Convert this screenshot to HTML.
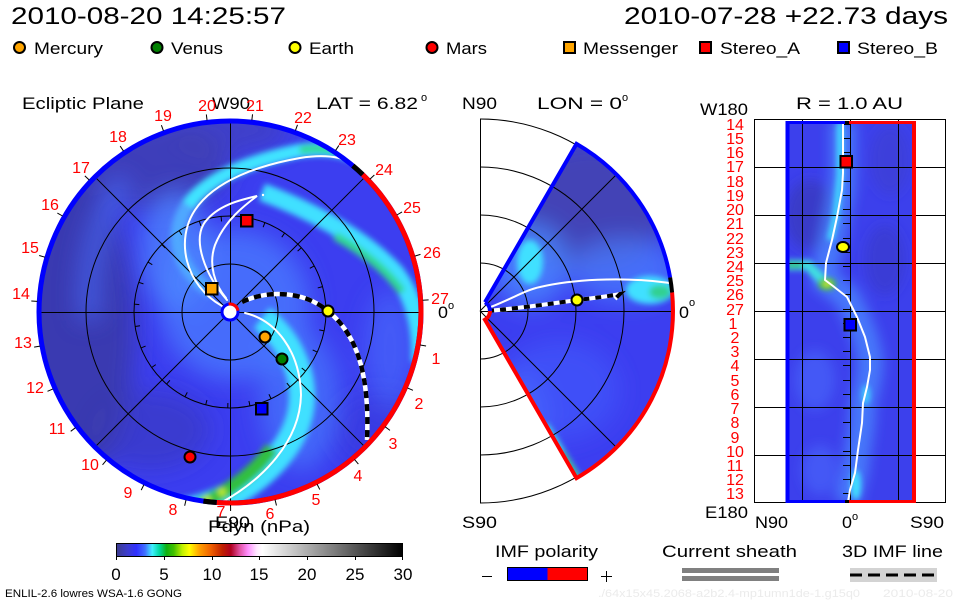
<!DOCTYPE html>
<html><head><meta charset="utf-8"><style>
html,body{margin:0;padding:0;background:#fff;}
svg{display:block;font-family:"Liberation Sans",Arial,sans-serif;}
</style></head><body>
<svg width="960" height="600" viewBox="0 0 960 600" xmlns="http://www.w3.org/2000/svg">
<defs>
<filter id="b3" filterUnits="userSpaceOnUse" x="0" y="0" width="960" height="600"><feGaussianBlur stdDeviation="3"/></filter>
<filter id="b6" filterUnits="userSpaceOnUse" x="0" y="0" width="960" height="600"><feGaussianBlur stdDeviation="6"/></filter>
<filter id="b12" filterUnits="userSpaceOnUse" x="0" y="0" width="960" height="600"><feGaussianBlur stdDeviation="12"/></filter>
<clipPath id="cd"><circle cx="230" cy="312" r="192"/></clipPath>
<clipPath id="cw"><path d="M485,302.3 L576.5,143.9 A193,193 0 0 1 576.5,478.1 L485,319.7 A10,10 0 0 0 485,302.3Z"/></clipPath>
<clipPath id="cr"><rect x="786" y="122" width="128" height="380"/></clipPath>
<linearGradient id="cb" x1="0" y1="0" x2="1" y2="0">
<stop offset="0" stop-color="#3c3c8c"/><stop offset="0.04" stop-color="#3c3cd0"/><stop offset="0.07" stop-color="#3030ff"/>
<stop offset="0.10" stop-color="#4070ff"/><stop offset="0.125" stop-color="#40f0ff"/><stop offset="0.15" stop-color="#00d8a0"/>
<stop offset="0.175" stop-color="#10b010"/><stop offset="0.20" stop-color="#40c000"/><stop offset="0.23" stop-color="#c0f000"/>
<stop offset="0.255" stop-color="#ffff00"/><stop offset="0.29" stop-color="#ffa000"/><stop offset="0.33" stop-color="#f06000"/>
<stop offset="0.37" stop-color="#c02000"/><stop offset="0.40" stop-color="#b00020"/><stop offset="0.43" stop-color="#e050a0"/>
<stop offset="0.46" stop-color="#ff90ff"/><stop offset="0.49" stop-color="#ffe8ff"/><stop offset="0.51" stop-color="#ffffff"/>
<stop offset="1" stop-color="#000000"/>
</linearGradient>
</defs>

<!-- Header -->
<text x="11" y="24" font-size="24" textLength="275" lengthAdjust="spacingAndGlyphs">2010-08-20 14:25:57</text>
<text x="624" y="24" font-size="24" textLength="324" lengthAdjust="spacingAndGlyphs">2010-07-28 +22.73 days</text>

<!-- Legend -->
<g stroke="#000" stroke-width="2">
<circle cx="19.5" cy="47.5" r="5.5" fill="#ffa500"/>
<circle cx="157" cy="47.5" r="5.5" fill="#008000"/>
<circle cx="295" cy="47.5" r="5.5" fill="#ffff00"/>
<circle cx="432" cy="47.5" r="5.5" fill="#ff0000"/>
<rect x="564" y="42" width="11" height="11" fill="#ffa500"/>
<rect x="700" y="42" width="11" height="11" fill="#ff0000"/>
<rect x="838" y="42" width="11" height="11" fill="#0000ff"/>
</g>
<g font-size="17">
<text x="34" y="54" textLength="69" lengthAdjust="spacingAndGlyphs">Mercury</text>
<text x="171" y="54" textLength="52" lengthAdjust="spacingAndGlyphs">Venus</text>
<text x="309" y="54" textLength="45" lengthAdjust="spacingAndGlyphs">Earth</text>
<text x="446" y="54" textLength="41" lengthAdjust="spacingAndGlyphs">Mars</text>
<text x="583" y="54" textLength="95" lengthAdjust="spacingAndGlyphs">Messenger</text>
<text x="720" y="54" textLength="80" lengthAdjust="spacingAndGlyphs">Stereo_A</text>
<text x="857" y="54" textLength="81" lengthAdjust="spacingAndGlyphs">Stereo_B</text>
</g>

<!-- Panel headers -->
<g font-size="17">
<text x="22" y="109" textLength="122" lengthAdjust="spacingAndGlyphs">Ecliptic Plane</text>
<text x="212" y="109" textLength="38" lengthAdjust="spacingAndGlyphs">W90</text>
<text x="316" y="109" textLength="102" lengthAdjust="spacingAndGlyphs">LAT = 6.82</text>
<text x="462" y="109" textLength="35" lengthAdjust="spacingAndGlyphs">N90</text>
<text x="537" y="109" textLength="85" lengthAdjust="spacingAndGlyphs">LON = 0</text>
<text x="796" y="109" textLength="107" lengthAdjust="spacingAndGlyphs">R = 1.0 AU</text>
<text x="700" y="115" textLength="48" lengthAdjust="spacingAndGlyphs">W180</text>
<text x="462" y="528" textLength="35" lengthAdjust="spacingAndGlyphs">S90</text>
<text x="705" y="518" textLength="43" lengthAdjust="spacingAndGlyphs">E180</text>
<text x="755" y="528" textLength="33" lengthAdjust="spacingAndGlyphs">N90</text>
<text x="842" y="528" textLength="10" lengthAdjust="spacingAndGlyphs">0</text>
<text x="910" y="528" textLength="34" lengthAdjust="spacingAndGlyphs">S90</text>
<text x="438" y="318" textLength="10" lengthAdjust="spacingAndGlyphs">0</text>
<text x="679" y="318" textLength="10" lengthAdjust="spacingAndGlyphs">0</text>
<text x="215" y="528" textLength="35" lengthAdjust="spacingAndGlyphs">E90</text>
</g>
<g font-size="11">
<text x="421" y="101">o</text>
<text x="622" y="101">o</text>
<text x="852" y="520">o</text>
<text x="448" y="309">o</text>
<text x="689" y="306">o</text>
</g>

<!-- ===== Left disk ===== -->
<g clip-path="url(#cd)">
<rect x="30" y="110" width="400" height="400" fill="#3c3ef0"/>
<g filter="url(#b12)">
<ellipse cx="75" cy="330" rx="60" ry="150" fill="#3a3aa6" opacity="0.85"/>
<ellipse cx="150" cy="165" rx="80" ry="45" fill="#3e3eac" opacity="0.8"/>
<ellipse cx="230" cy="130" rx="60" ry="25" fill="#4040b0" opacity="0.6"/>
<ellipse cx="150" cy="430" rx="60" ry="40" fill="#3a3ab0" opacity="0.5"/>
<ellipse cx="380" cy="430" rx="50" ry="40" fill="#3a3ad0" opacity="0.4"/>
</g>
<g filter="url(#b12)">
<circle cx="235" cy="305" r="75" fill="#4a7cff" opacity="0.75"/>
<ellipse cx="175" cy="250" rx="35" ry="60" fill="#4e8cff" opacity="0.7"/>
<ellipse cx="300" cy="400" rx="40" ry="70" fill="#4a84ff" opacity="0.6"/>
<ellipse cx="390" cy="350" rx="25" ry="60" fill="#4a78ff" opacity="0.5"/>
<path d="M90,320 C 85,260 100,215 125,180" stroke="#4a70ff" stroke-width="22" fill="none" opacity="0.6"/>
</g>
<g filter="url(#b3)" fill="none">
<path d="M212,292 C 178,270 168,235 188,205" stroke="#50a8ff" stroke-width="14"/>
<path d="M188,205 C 210,175 255,160 298,151 C 330,146 352,152 370,164" stroke="#40e4ff" stroke-width="14"/>
<path d="M300,150 C 330,146 352,152 370,164" stroke="#30d888" stroke-width="7"/>
<path d="M262,192 C 305,208 360,235 395,272 C 415,298 422,330 420,362" stroke="#40e0ff" stroke-width="18"/>
<path d="M335,236 C 360,250 385,268 402,292" stroke="#30d890" stroke-width="8"/>
<path d="M262,318 C 290,340 303,372 302,400 C 300,440 268,478 220,500 C 205,506 195,510 180,512" stroke="#40e0ff" stroke-width="26"/>
<path d="M272,448 C 257,470 235,488 200,505" stroke="#30c040" stroke-width="14"/>
<circle cx="222" cy="492" r="4" fill="#c8f030"/>
<circle cx="207" cy="500" r="4" fill="#c8f030"/>
</g>
<!-- grid -->
<g stroke="#000" stroke-width="1" fill="none">
<circle cx="230" cy="312" r="48"/>
<circle cx="230" cy="312" r="96"/>
<circle cx="230" cy="312" r="144"/>
<line x1="36" y1="312.5" x2="424" y2="312.5"/>
<line x1="230.5" y1="118" x2="230.5" y2="506"/>
<line x1="94.2" y1="176.2" x2="365.8" y2="447.8"/>
<line x1="94.2" y1="447.8" x2="365.8" y2="176.2"/>
</g>
<g stroke="#000" stroke-width="1">
<line x1="321" y1="312" x2="326" y2="312" transform="rotate(-2 230 312)"/>
<line x1="321" y1="312" x2="326" y2="312" transform="rotate(-15.33 230 312)"/>
<line x1="321" y1="312" x2="326" y2="312" transform="rotate(-28.67 230 312)"/>
<line x1="321" y1="312" x2="326" y2="312" transform="rotate(-42 230 312)"/>
<line x1="321" y1="312" x2="326" y2="312" transform="rotate(-55.33 230 312)"/>
<line x1="321" y1="312" x2="326" y2="312" transform="rotate(-68.67 230 312)"/>
<line x1="321" y1="312" x2="326" y2="312" transform="rotate(-82 230 312)"/>
<line x1="321" y1="312" x2="326" y2="312" transform="rotate(-95.33 230 312)"/>
<line x1="321" y1="312" x2="326" y2="312" transform="rotate(-108.67 230 312)"/>
<line x1="321" y1="312" x2="326" y2="312" transform="rotate(-122 230 312)"/>
<line x1="321" y1="312" x2="326" y2="312" transform="rotate(-135.33 230 312)"/>
<line x1="321" y1="312" x2="326" y2="312" transform="rotate(-148.67 230 312)"/>
<line x1="321" y1="312" x2="326" y2="312" transform="rotate(-162 230 312)"/>
<line x1="321" y1="312" x2="326" y2="312" transform="rotate(-175.33 230 312)"/>
<line x1="321" y1="312" x2="326" y2="312" transform="rotate(-188.67 230 312)"/>
<line x1="321" y1="312" x2="326" y2="312" transform="rotate(-202 230 312)"/>
<line x1="321" y1="312" x2="326" y2="312" transform="rotate(-215.33 230 312)"/>
<line x1="321" y1="312" x2="326" y2="312" transform="rotate(-228.67 230 312)"/>
<line x1="321" y1="312" x2="326" y2="312" transform="rotate(-242 230 312)"/>
<line x1="321" y1="312" x2="326" y2="312" transform="rotate(-255.33 230 312)"/>
<line x1="321" y1="312" x2="326" y2="312" transform="rotate(-268.67 230 312)"/>
<line x1="321" y1="312" x2="326" y2="312" transform="rotate(-282 230 312)"/>
<line x1="321" y1="312" x2="326" y2="312" transform="rotate(-295.33 230 312)"/>
<line x1="321" y1="312" x2="326" y2="312" transform="rotate(-308.67 230 312)"/>
<line x1="321" y1="312" x2="326" y2="312" transform="rotate(-322 230 312)"/>
<line x1="321" y1="312" x2="326" y2="312" transform="rotate(-335.33 230 312)"/>
<line x1="321" y1="312" x2="326" y2="312" transform="rotate(-348.67 230 312)"/>
</g>
<!-- white field lines -->
<g stroke="#fff" stroke-width="2" fill="none" stroke-linecap="round">
<path d="M245,313 C 275,320 300,350 301,395 C 300,440 265,480 215,506"/>
<path d="M222,306 C 185,285 175,240 195,210 C 215,180 260,165 300,158 C 330,153 350,158 368,172"/>
<path d="M227,300 C 205,275 192,240 205,222 C 218,205 240,200 257,196 C 245,205 225,220 215,245 C 208,265 215,285 226,298"/>
</g>
<circle cx="263" cy="195" r="1.2" fill="#fff"/>
<!-- dashed IMF line -->
<path d="M242,302 C 262,292 300,288 328,311 C 355,333 370,370 367,440" stroke="#fff" stroke-width="4.5" fill="none"/>
<path d="M242,302 C 262,292 300,288 328,311 C 355,333 370,370 367,440" stroke="#000" stroke-width="4.5" fill="none" stroke-dasharray="7 6"/>
</g>
<!-- rim -->
<circle cx="230" cy="312" r="191" fill="none" stroke="#0000ff" stroke-width="5"/>
<path d="M362.7,174.6 A191,191 0 0 1 216.7,502.5" fill="none" stroke="#ff0000" stroke-width="5"/>
<path d="M352.8,165.7 A191,191 0 0 1 362.7,174.6" fill="none" stroke="#000" stroke-width="5"/>
<path d="M203.4,501.1 A191,191 0 0 0 216.7,502.5" fill="none" stroke="#000" stroke-width="5"/>
<!-- outer ticks -->
<g stroke="#000" stroke-width="1">
<line x1="423" y1="312" x2="429" y2="312" transform="rotate(-3.5 230 312)"/>
<line x1="423" y1="312" x2="429" y2="312" transform="rotate(-16.83 230 312)"/>
<line x1="423" y1="312" x2="429" y2="312" transform="rotate(-30.17 230 312)"/>
<line x1="423" y1="312" x2="429" y2="312" transform="rotate(-43.5 230 312)"/>
<line x1="423" y1="312" x2="429" y2="312" transform="rotate(-56.83 230 312)"/>
<line x1="423" y1="312" x2="429" y2="312" transform="rotate(-70.17 230 312)"/>
<line x1="423" y1="312" x2="429" y2="312" transform="rotate(-83.5 230 312)"/>
<line x1="423" y1="312" x2="429" y2="312" transform="rotate(-96.83 230 312)"/>
<line x1="423" y1="312" x2="429" y2="312" transform="rotate(-110.17 230 312)"/>
<line x1="423" y1="312" x2="429" y2="312" transform="rotate(-123.5 230 312)"/>
<line x1="423" y1="312" x2="429" y2="312" transform="rotate(-136.83 230 312)"/>
<line x1="423" y1="312" x2="429" y2="312" transform="rotate(-150.17 230 312)"/>
<line x1="423" y1="312" x2="429" y2="312" transform="rotate(-163.5 230 312)"/>
<line x1="423" y1="312" x2="429" y2="312" transform="rotate(-176.83 230 312)"/>
<line x1="423" y1="312" x2="429" y2="312" transform="rotate(-190.17 230 312)"/>
<line x1="423" y1="312" x2="429" y2="312" transform="rotate(-203.5 230 312)"/>
<line x1="423" y1="312" x2="429" y2="312" transform="rotate(-216.83 230 312)"/>
<line x1="423" y1="312" x2="429" y2="312" transform="rotate(-230.17 230 312)"/>
<line x1="423" y1="312" x2="429" y2="312" transform="rotate(-243.5 230 312)"/>
<line x1="423" y1="312" x2="429" y2="312" transform="rotate(-256.83 230 312)"/>
<line x1="423" y1="312" x2="429" y2="312" transform="rotate(-270.17 230 312)"/>
<line x1="423" y1="312" x2="429" y2="312" transform="rotate(-283.5 230 312)"/>
<line x1="423" y1="312" x2="429" y2="312" transform="rotate(-296.83 230 312)"/>
<line x1="423" y1="312" x2="429" y2="312" transform="rotate(-310.17 230 312)"/>
<line x1="423" y1="312" x2="429" y2="312" transform="rotate(-323.5 230 312)"/>
<line x1="423" y1="312" x2="429" y2="312" transform="rotate(-336.83 230 312)"/>
<line x1="423" y1="312" x2="429" y2="312" transform="rotate(-350.17 230 312)"/>
</g>
<!-- center sun -->
<circle cx="230" cy="312" r="8" fill="#fff" stroke="#0000ff" stroke-width="3"/>
<path d="M228.6,304.1 A8,8 0 0 1 237.9,310.6" fill="none" stroke="#ff0000" stroke-width="3"/>
<!-- markers -->
<g stroke="#000" stroke-width="2">
<circle cx="265" cy="337" r="5.5" fill="#ffa500"/>
<circle cx="282" cy="359" r="5.5" fill="#008000"/>
<circle cx="328" cy="311" r="5.5" fill="#ffff00"/>
<circle cx="190" cy="457" r="5.5" fill="#ff0000"/>
<rect x="206" y="283" width="11.5" height="11.5" fill="#ffa500"/>
<rect x="241" y="215" width="11.5" height="11.5" fill="#ff0000"/>
<rect x="256" y="403" width="11.5" height="11.5" fill="#0000ff"/>
</g>
<!-- disk labels -->
<g font-size="16" fill="#ff0000" text-anchor="middle">
<text x="207" y="111">20</text><text x="255" y="111">21</text><text x="303" y="123">22</text>
<text x="347" y="145">23</text><text x="384" y="175">24</text><text x="412" y="213">25</text>
<text x="432" y="258">26</text><text x="440" y="304">27</text><text x="436" y="364">1</text>
<text x="419" y="409">2</text><text x="393" y="449">3</text><text x="358" y="481">4</text>
<text x="316" y="505">5</text><text x="270" y="519">6</text><text x="221" y="517">7</text>
<text x="173" y="515">8</text><text x="128" y="498">9</text><text x="90" y="470">10</text>
<text x="57" y="434">11</text><text x="35" y="393">12</text><text x="23" y="348">13</text>
<text x="21" y="299">14</text><text x="30" y="253">15</text><text x="50" y="210">16</text>
<text x="81" y="173">17</text><text x="118" y="142">18</text><text x="163" y="121">19</text>
</g>
<text x="208" y="532" font-size="17" textLength="102" lengthAdjust="spacingAndGlyphs">Pdyn (nPa)</text>

<!-- ===== Middle panel ===== -->
<g clip-path="url(#cw)">
<rect x="470" y="130" width="220" height="360" fill="#3c3ef0"/>
<g filter="url(#b12)">
<ellipse cx="590" cy="205" rx="80" ry="65" fill="#4444b0" opacity="0.9"/>
<ellipse cx="530" cy="265" rx="38" ry="42" fill="#4a8aff" opacity="0.8"/>
<ellipse cx="625" cy="270" rx="55" ry="32" fill="#4a80ff" opacity="0.7"/>
<ellipse cx="560" cy="390" rx="60" ry="50" fill="#4460ff" opacity="0.5"/>
<ellipse cx="520" cy="420" rx="30" ry="50" fill="#4a70ff" opacity="0.5"/>
</g>
<g filter="url(#b3)">
<ellipse cx="530" cy="262" rx="13" ry="22" fill="#40e0ff"/>
<ellipse cx="650" cy="290" rx="24" ry="14" fill="#40e0ff"/>
<ellipse cx="660" cy="292" rx="11" ry="7" fill="#30d090"/>
<line x1="545" y1="425" x2="580" y2="482" stroke="#40e0e0" stroke-width="7"/>
<line x1="562" y1="452" x2="580" y2="482" stroke="#40c040" stroke-width="4"/>
</g>
</g>
<g stroke="#000" stroke-width="1" fill="none">
<path d="M480,263 A48,48 0 0 1 480,359"/>
<path d="M480,215 A96,96 0 0 1 480,407"/>
<path d="M480,167 A144,144 0 0 1 480,455"/>
<path d="M480,119 A192,192 0 0 1 480,503"/>
<line x1="480.5" y1="119" x2="480.5" y2="503"/>
<line x1="480" y1="311.5" x2="673" y2="311.5"/>
<line x1="480" y1="311" x2="616" y2="175"/>
<line x1="480" y1="311" x2="616" y2="447"/>
</g>
<path d="M488,308 C 510,300 525,290 540,287 C 570,280 620,276 670,283" stroke="#fff" stroke-width="2" fill="none"/>
<path d="M488,311 C 520,308 550,304 577,300 C 595,298 610,296 620,294 L615,299" stroke="#fff" stroke-width="4" fill="none"/>
<path d="M488,311 C 520,308 550,304 577,300 C 595,298 610,296 620,294 L615,299" stroke="#000" stroke-width="4" fill="none" stroke-dasharray="6 6"/>
<path d="M485,302.3 L576.5,143.9 A193,193 0 0 1 670.1,277.5" fill="none" stroke="#0000ff" stroke-width="4"/>
<path d="M670.1,277.5 A193,193 0 0 1 672.1,292.5" fill="none" stroke="#000" stroke-width="4"/>
<path d="M672.1,292.5 A193,193 0 0 1 576.5,478.1 L485,319.7 A10,10 0 0 0 490,311" fill="none" stroke="#ff0000" stroke-width="4"/>
<path d="M490,311 A10,10 0 0 0 485,302.3" fill="none" stroke="#0000ff" stroke-width="4"/>
<circle cx="577" cy="300" r="5.5" fill="#ffff00" stroke="#000" stroke-width="2"/>

<!-- ===== Right panel ===== -->
<g clip-path="url(#cr)">
<rect x="786" y="122" width="128" height="380" fill="#3c40ec"/>
<g filter="url(#b6)">
<ellipse cx="810" cy="215" rx="25" ry="35" fill="#3838b0" opacity="0.6"/>
<ellipse cx="885" cy="260" rx="20" ry="35" fill="#3838c0" opacity="0.5"/>
<ellipse cx="890" cy="160" rx="20" ry="35" fill="#3c3cc0" opacity="0.4"/>
<path d="M843,122 L843,173 L842,190 L837,217 L832,240 L826,263 L825,280 L833,286 L847,297 L857,317 L865,337 L870,357 L870,370 L867,387 L863,403 L862,423 L858,450 L855,473 L850,490 L848,502" stroke="#4a8aff" stroke-width="26" fill="none" opacity="0.75"/>
<ellipse cx="815" cy="380" rx="20" ry="30" fill="#4a70ff" opacity="0.5"/>
<ellipse cx="820" cy="470" rx="18" ry="25" fill="#4a70ff" opacity="0.5"/>
</g>
<g filter="url(#b3)">
<path d="M840,122 L840,175 L836,215 L830,240" stroke="#40e0ff" stroke-width="6" fill="none"/>
<path d="M786,265 L808,265 L826,284" stroke="#40e0e0" stroke-width="10" fill="none"/>
<path d="M786,265 L802,265" stroke="#30c060" stroke-width="5" fill="none"/>
<ellipse cx="827" cy="284" rx="9" ry="6" fill="#40c040"/>
<ellipse cx="866" cy="395" rx="4" ry="10" fill="#40d0ff"/>
<ellipse cx="856" cy="485" rx="5" ry="15" fill="#40e0ff"/>
</g>
<ellipse cx="827" cy="284" rx="5" ry="3" fill="#e8e840" filter="url(#b3)"/>
</g>
<g stroke="#000" stroke-width="1" fill="none">
<rect x="754.5" y="119.5" width="191" height="383"/>
<line x1="802.5" y1="119" x2="802.5" y2="503"/>
<line x1="850.5" y1="119" x2="850.5" y2="503"/>
<line x1="898.5" y1="119" x2="898.5" y2="503"/>
<line x1="754" y1="167.5" x2="946" y2="167.5"/>
<line x1="754" y1="215.5" x2="946" y2="215.5"/>
<line x1="754" y1="263.5" x2="946" y2="263.5"/>
<line x1="754" y1="311.5" x2="946" y2="311.5"/>
<line x1="754" y1="359.5" x2="946" y2="359.5"/>
<line x1="754" y1="407.5" x2="946" y2="407.5"/>
<line x1="754" y1="455.5" x2="946" y2="455.5"/>
</g>
<g stroke="#000" stroke-width="1">
<line x1="843" y1="124.5" x2="850" y2="124.5"/><line x1="843" y1="138.5" x2="850" y2="138.5"/>
<line x1="843" y1="152.5" x2="850" y2="152.5"/><line x1="843" y1="166.5" x2="850" y2="166.5"/>
<line x1="843" y1="181.5" x2="850" y2="181.5"/><line x1="843" y1="195.5" x2="850" y2="195.5"/>
<line x1="843" y1="209.5" x2="850" y2="209.5"/><line x1="843" y1="223.5" x2="850" y2="223.5"/>
<line x1="843" y1="238.5" x2="850" y2="238.5"/><line x1="843" y1="252.5" x2="850" y2="252.5"/>
<line x1="843" y1="266.5" x2="850" y2="266.5"/><line x1="843" y1="280.5" x2="850" y2="280.5"/>
<line x1="843" y1="294.5" x2="850" y2="294.5"/><line x1="843" y1="309.5" x2="850" y2="309.5"/>
<line x1="843" y1="323.5" x2="850" y2="323.5"/><line x1="843" y1="337.5" x2="850" y2="337.5"/>
<line x1="843" y1="351.5" x2="850" y2="351.5"/><line x1="843" y1="365.5" x2="850" y2="365.5"/>
<line x1="843" y1="380.5" x2="850" y2="380.5"/><line x1="843" y1="394.5" x2="850" y2="394.5"/>
<line x1="843" y1="408.5" x2="850" y2="408.5"/><line x1="843" y1="422.5" x2="850" y2="422.5"/>
<line x1="843" y1="437.5" x2="850" y2="437.5"/><line x1="843" y1="451.5" x2="850" y2="451.5"/>
<line x1="843" y1="465.5" x2="850" y2="465.5"/><line x1="843" y1="479.5" x2="850" y2="479.5"/>
<line x1="843" y1="493.5" x2="850" y2="493.5"/>
</g>
<path d="M843,122 L843,173 L842,190 L837,217 L832,240 L826,263 L825,280 L833,286 L847,297 L857,317 L865,337 L870,357 L870,370 L867,387 L863,403 L862,423 L858,450 L855,473 L850,490 L848,502" stroke="#fff" stroke-width="2" fill="none" stroke-linejoin="round"/>
<!-- right borders -->
<line x1="787.5" y1="121" x2="787.5" y2="503" stroke="#0000ff" stroke-width="4"/>
<line x1="914" y1="121" x2="914" y2="503" stroke="#ff0000" stroke-width="4"/>
<line x1="786" y1="122.5" x2="845" y2="122.5" stroke="#0000ff" stroke-width="3"/>
<line x1="845" y1="122.5" x2="849" y2="122.5" stroke="#000" stroke-width="3"/>
<line x1="849" y1="122.5" x2="916" y2="122.5" stroke="#ff0000" stroke-width="3"/>
<line x1="786" y1="501.5" x2="845" y2="501.5" stroke="#0000ff" stroke-width="3"/>
<line x1="845" y1="501.5" x2="849" y2="501.5" stroke="#000" stroke-width="3"/>
<line x1="849" y1="501.5" x2="916" y2="501.5" stroke="#ff0000" stroke-width="3"/>
<g stroke="#000" stroke-width="2">
<rect x="840.5" y="156" width="11.5" height="11.5" fill="#ff0000"/>
<ellipse cx="843" cy="247" rx="6" ry="5" fill="#ffff00"/>
<rect x="844.5" y="319" width="11.5" height="11.5" fill="#0000ff"/>
</g>
<g font-size="16" fill="#ff0000" text-anchor="middle">
<text x="735" y="130">14</text><text x="735" y="144">15</text><text x="735" y="158">16</text>
<text x="735" y="172">17</text><text x="735" y="187">18</text><text x="735" y="201">19</text>
<text x="735" y="215">20</text><text x="735" y="229">21</text><text x="735" y="244">22</text>
<text x="735" y="258">23</text><text x="735" y="272">24</text><text x="735" y="286">25</text>
<text x="735" y="300">26</text><text x="735" y="315">27</text><text x="733" y="329">1</text>
<text x="735" y="343">2</text><text x="735" y="357">3</text><text x="735" y="371">4</text>
<text x="735" y="386">5</text><text x="735" y="400">6</text><text x="735" y="414">7</text>
<text x="735" y="428">8</text><text x="735" y="443">9</text><text x="735" y="457">10</text>
<text x="735" y="471">11</text><text x="735" y="485">12</text><text x="735" y="499">13</text>
</g>

<!-- ===== Colorbar ===== -->
<rect x="116.5" y="543.5" width="286" height="13" fill="url(#cb)" stroke="#000" stroke-width="1"/>
<g stroke="#000" stroke-width="1">
<line x1="116.5" y1="557" x2="116.5" y2="560"/><line x1="164.5" y1="557" x2="164.5" y2="560"/>
<line x1="212.5" y1="557" x2="212.5" y2="560"/><line x1="259.5" y1="557" x2="259.5" y2="560"/>
<line x1="307.5" y1="557" x2="307.5" y2="560"/><line x1="355.5" y1="557" x2="355.5" y2="560"/>
<line x1="402.5" y1="557" x2="402.5" y2="560"/>
</g>
<g font-size="17" text-anchor="middle">
<text x="116" y="580">0</text><text x="164" y="580">5</text><text x="212" y="580">10</text>
<text x="259" y="580">15</text><text x="307" y="580">20</text><text x="355" y="580">25</text>
<text x="403" y="580">30</text>
</g>
<text x="5" y="597" font-size="11" textLength="177" lengthAdjust="spacingAndGlyphs">ENLIL-2.6 lowres WSA-1.6 GONG</text>

<!-- ===== Bottom right legends ===== -->
<g font-size="17">
<text x="495" y="557" textLength="103" lengthAdjust="spacingAndGlyphs">IMF polarity</text>
<text x="662" y="557" textLength="135" lengthAdjust="spacingAndGlyphs">Current sheath</text>
<text x="842" y="557" textLength="101" lengthAdjust="spacingAndGlyphs">3D IMF line</text>
</g>
<line x1="482" y1="576.5" x2="492" y2="576.5" stroke="#000" stroke-width="1"/>
<line x1="601" y1="576.5" x2="612" y2="576.5" stroke="#000" stroke-width="1"/>
<line x1="606.5" y1="571" x2="606.5" y2="582" stroke="#000" stroke-width="1"/>
<rect x="507.5" y="567.5" width="40" height="13" fill="#0000ff"/>
<rect x="547.5" y="567.5" width="40" height="13" fill="#ff0000"/>
<rect x="507.5" y="567.5" width="80" height="13" fill="none" stroke="#000" stroke-width="1"/>
<rect x="682" y="568" width="97" height="5" fill="#808080"/>
<rect x="682" y="576" width="97" height="5" fill="#808080"/>
<rect x="850" y="568" width="87" height="14" fill="#d3d3d3"/>
<line x1="850" y1="575" x2="937" y2="575" stroke="#000" stroke-width="3" stroke-dasharray="12 6"/>
<text x="598" y="597" font-size="11" fill="#ebebeb" textLength="262" lengthAdjust="spacingAndGlyphs">./64x15x45.2068-a2b2.4-mp1umn1de-1.g15q0</text>
<text x="883" y="597" font-size="11" fill="#ebebeb" textLength="70" lengthAdjust="spacingAndGlyphs">2010-08-20</text>
</svg>
</body></html>
